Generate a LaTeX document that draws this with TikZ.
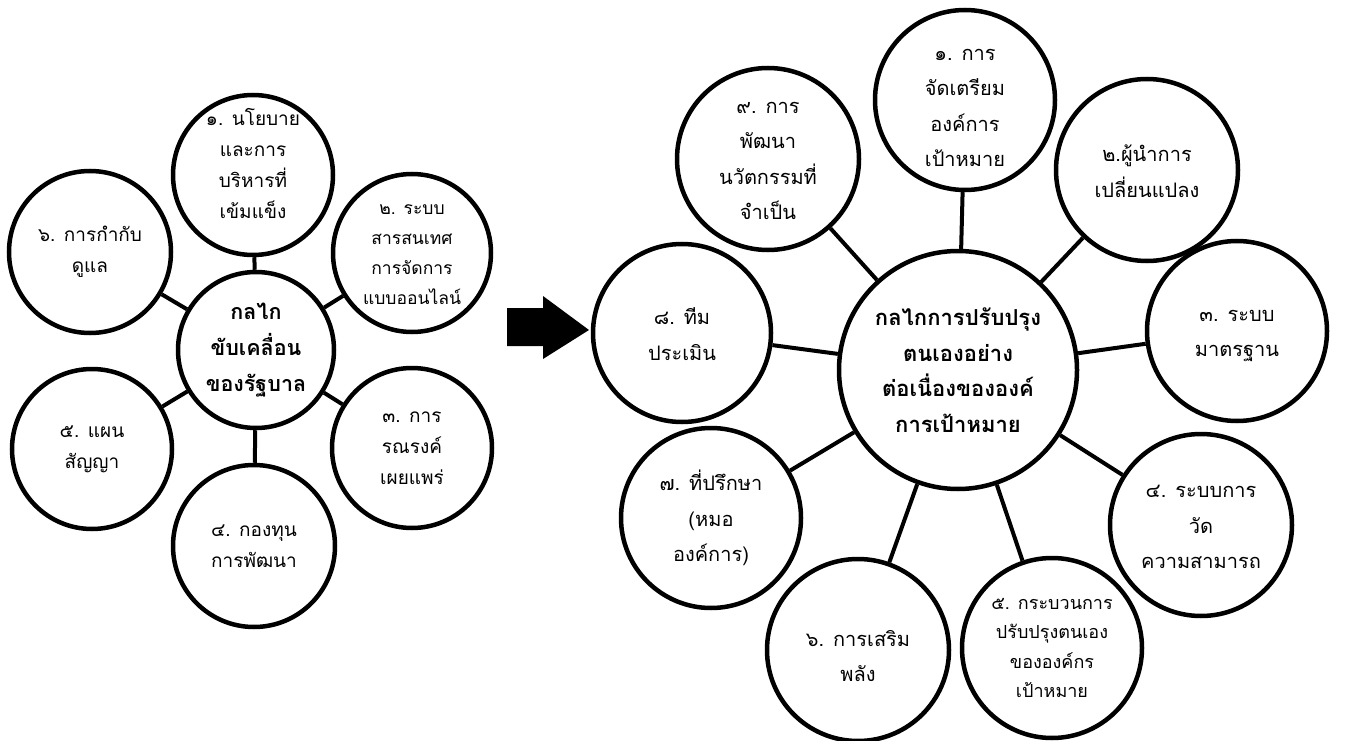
\documentclass[tikz,border=0pt]{standalone}
\usepackage{fontspec}
\newfontfamily\thai[Script=Thai]{Loma}
\begin{document}
\begin{tikzpicture}[x=1pt,y=-1pt,
  circ/.style={circle,draw=black,line width=4.5pt,fill=white,inner sep=0pt},
  lt/.style={font=\thai\fontsize{19}{31}\selectfont,align=center,inner sep=0pt},
  lts/.style={font=\thai\fontsize{17.5}{30}\selectfont,align=center,inner sep=0pt},
  rt/.style={font=\thai\fontsize{20}{35.5}\selectfont,align=center,inner sep=0pt},
  st/.style={font=\thai\fontsize{18}{29.5}\selectfont,align=center,inner sep=0pt},
  ctl/.style={font=\thai\bfseries\fontsize{21.5}{36}\selectfont,align=center,inner sep=0pt},
  ctr/.style={font=\thai\bfseries\fontsize{22}{35.5}\selectfont,align=center,inner sep=0pt},
  conn/.style={line width=4pt}]
\useasboundingbox (0,0) rectangle (1345,741);
\fill[white] (0,0) rectangle (1345,741);

% ---- left diagram ----
\node[circ,minimum size=156pt] (lc) at (256,350) {};
\node[circ,minimum size=160pt] (l1) at (253,175) {};
\node[circ,minimum size=158pt] (l2) at (412,253) {};
\node[circ,minimum size=160pt] (l3) at (412,448) {};
\node[circ,minimum size=162pt] (l4) at (254,546) {};
\node[circ,minimum size=160pt] (l5) at (92,449) {};
\node[circ,minimum size=162pt] (l6) at (90,252) {};
\foreach \n in {l1,l2,l3,l4,l5,l6} \draw[conn] (lc) -- (\n);

\node[ctl] at (lc) {กลไก\\ขับเคลื่อน\\ของรัฐบาล};
\node[lt] at ([yshift=12]l1) {๑. นโยบาย\\และการ\\บริหารที่\\เข้มแข็ง};
\node[lts] at ([yshift=-2]l2) {๒. ระบบ\\สารสนเทศ\\การจัดการ\\แบบออนไลน์};
\node[lt] at (l3) {๓. การ\\รณรงค์\\เผยแพร่};
\node[lt] at (l4) {๔. กองทุน\\การพัฒนา};
\node[lt] at (l5) {๕. แผน\\สัญญา};
\node[lt] at (l6) {๖. การกำกับ\\ดูแล};

% ---- block arrow ----
\fill[black] (507,308) -- (543,308) -- (543,296) -- (589,330) -- (543,359) -- (543,346) -- (507,346) -- cycle;

% ---- right diagram ----
\node[circ,minimum size=238pt] (rc) at (958,370) {};
\node[circ,minimum size=180pt] (r1) at (965,100) {};
\node[circ,minimum size=182pt] (r2) at (1147,170) {};
\node[circ,minimum size=180pt] (r3) at (1237,331) {};
\node[circ,minimum size=182pt] (r4) at (1201,525) {};
\node[circ,minimum size=180pt] (r5) at (1052,648) {};
\node[circ,minimum size=182pt] (r6) at (858,650) {};
\node[circ,minimum size=180pt] (r7) at (711,518) {};
\node[circ,minimum size=178pt] (r8) at (682,333) {};
\node[circ,minimum size=182pt] (r9) at (768,159) {};
\foreach \n in {r1,r2,r3,r4,r5,r6,r7,r8,r9} \draw[conn] (rc) -- (\n);

\node[ctr] at (rc) {กลไกการปรับปรุง\\ตนเองอย่าง\\ต่อเนื่องขององค์\\การเป้าหมาย};
\node[rt] at ([yshift=-8]r1) {๑. การ\\จัดเตรียม\\องค์การ\\เป้าหมาย};
\node[rt] at ([yshift=-1]r2) {๒.ผู้นำการ\\เปลี่ยนแปลง};
\node[rt] at ([yshift=-5]r3) {๓. ระบบ\\มาตรฐาน};
\node[rt] at ([yshift=-2]r4) {๔. ระบบการ\\วัด\\ความสามารถ};
\node[st] at (r5) {๕. กระบวนการ\\ปรับปรุงตนเอง\\ขององค์กร\\เป้าหมาย};
\node[rt] at ([yshift=-6]r6) {๖. การเสริม\\พลัง};
\node[rt] at (r7) {๗. ที่ปรึกษา\\(หมอ\\องค์การ)};
\node[rt] at ([yshift=-1]r8) {๘. ทีม\\ประเมิน};
\node[rt] at ([yshift=-2]r9) {๙. การ\\พัฒนา\\นวัตกรรมที่\\จำเป็น};
\end{tikzpicture}
\end{document}
